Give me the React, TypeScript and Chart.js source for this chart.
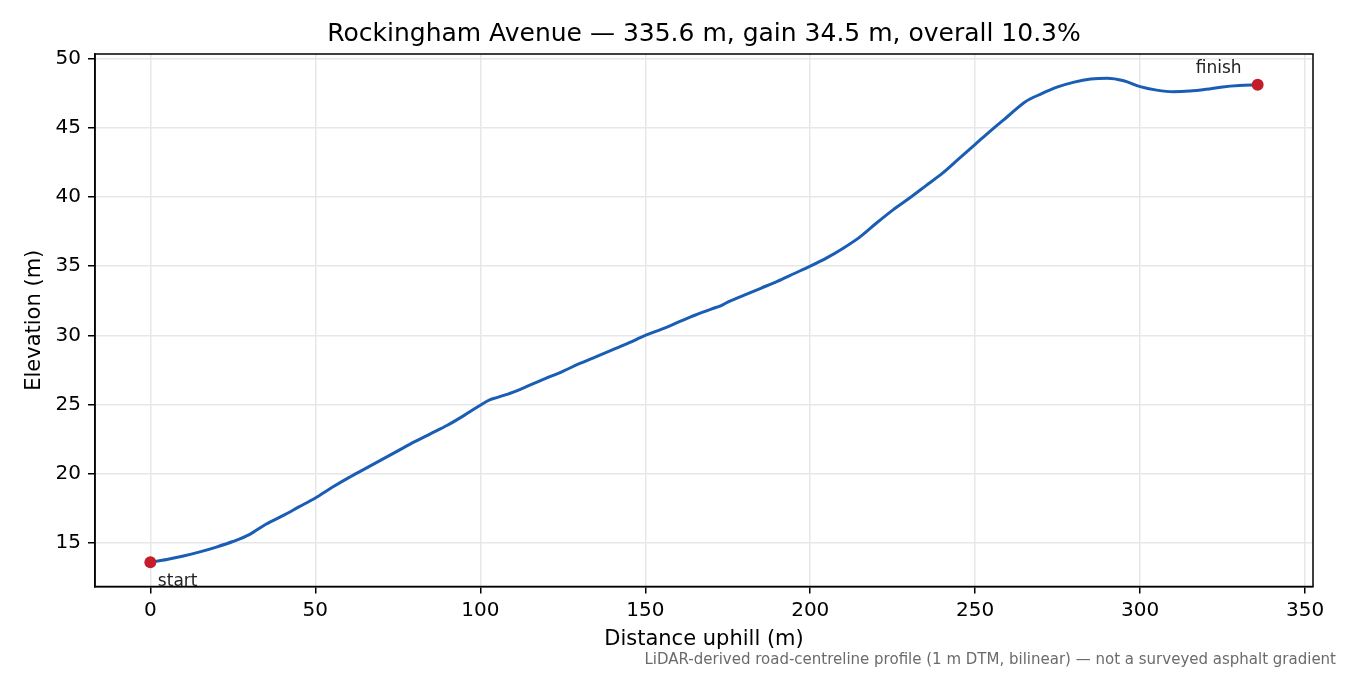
import React, { useEffect, useRef } from "react";
import { Chart, registerables } from "chart.js";

Chart.register(...registerables);

// Distance along the road (m) and elevation (m)
const distances = [
  0, 5, 10, 15, 20, 25, 30, 35, 40, 45, 50, 55, 60, 65, 70, 75, 80, 85, 90, 95,
  100, 103, 105, 110, 115, 120, 125, 130, 135, 140, 145, 150, 155, 160, 165,
  170, 173, 175, 180, 185, 190, 195, 200, 205, 210, 215, 220, 225, 230, 235,
  240, 245, 250, 255, 260, 265, 270, 275, 280, 285, 290, 295, 300, 305, 310,
  315, 320, 325, 330, 335.6,
];
const elevations = [
  13.6, 13.8, 14.05, 14.35, 14.7, 15.1, 15.6, 16.35, 16.95, 17.6, 18.25, 19.0,
  19.7, 20.35, 21.0, 21.65, 22.3, 22.9, 23.5, 24.2, 24.95, 25.35, 25.5, 25.9,
  26.4, 26.9, 27.4, 27.95, 28.45, 28.95, 29.45, 30.0, 30.45, 30.95, 31.45,
  31.9, 32.15, 32.4, 32.9, 33.4, 33.9, 34.45, 35.0, 35.6, 36.3, 37.1, 38.1,
  39.05, 39.9, 40.8, 41.7, 42.75, 43.8, 44.85, 45.85, 46.85, 47.45, 47.95,
  48.3, 48.52, 48.58, 48.4, 47.97, 47.72, 47.6, 47.65, 47.78, 47.95, 48.05,
  48.1,
];

const xTicks = [0, 50, 100, 150, 200, 250, 300, 350];
const yTicks = [15, 20, 25, 30, 35, 40, 45, 50];
const endLabels = ["start", "finish"];

const titleText = "Rockingham Avenue — 335.6 m, gain 34.5 m, overall 10.3%";
const footnote =
  "LiDAR-derived road-centreline profile (1 m DTM, bilinear) — not a surveyed asphalt gradient";

const FONT = "'DejaVu Sans', sans-serif";

// frame, start/finish labels and footnote
const extrasPlugin = {
  id: "extras",
  afterDatasetsDraw(chart: any) {
    const { ctx, chartArea, scales } = chart;
    ctx.save();
    ctx.strokeStyle = "#000";
    ctx.lineWidth = 1.5;
    ctx.strokeRect(chartArea.left, chartArea.top, chartArea.width, chartArea.height);

    const last = distances.length - 1;
    const sx = scales.x.getPixelForValue(distances[0]);
    const sy = scales.y.getPixelForValue(elevations[0]);
    const fx = scales.x.getPixelForValue(distances[last]);
    const fy = scales.y.getPixelForValue(elevations[last]);

    ctx.font = `17px ${FONT}`;
    ctx.fillStyle = "#222";
    ctx.textBaseline = "alphabetic";
    ctx.textAlign = "left";
    ctx.fillText(endLabels[0], sx + 7.5, sy + 24);
    ctx.textAlign = "center";
    ctx.fillText(endLabels[1], fx - 39, fy - 12);

    ctx.font = `15px ${FONT}`;
    ctx.fillStyle = "#6b6b6b";
    ctx.textAlign = "right";
    ctx.textBaseline = "middle";
    ctx.fillText(footnote, chart.width - 14, chart.height - 15);
    ctx.restore();
  },
};

export default function App() {
  const canvasRef = useRef<HTMLCanvasElement | null>(null);

  useEffect(() => {
    document.body.style.margin = "0";
    const ctx = canvasRef.current?.getContext("2d");
    if (!ctx) return;

    const profile = distances.map((d, i) => ({ x: d, y: elevations[i] }));
    const ends = [profile[0], profile[profile.length - 1]];

    const chart = new Chart(ctx, {
      type: "line",
      data: {
        datasets: [
          {
            data: ends,
            showLine: false,
            pointRadius: 6,
            pointHoverRadius: 6,
            pointBackgroundColor: "#c41e2c",
            pointBorderColor: "#c41e2c",
            pointBorderWidth: 0,
            clip: false,
            order: 0,
          },
          {
            data: profile,
            borderColor: "#1a5db4",
            borderWidth: 3,
            pointRadius: 0,
            cubicInterpolationMode: "monotone",
            fill: false,
            order: 1,
          },
        ],
      },
      options: {
        responsive: true,
        maintainAspectRatio: false,
        animation: false,
        layout: { padding: { left: 0, right: 37, top: 0, bottom: 0 } },
        plugins: {
          legend: { display: false },
          tooltip: { enabled: false },
          title: {
            display: true,
            text: titleText,
            fullSize: false,
            color: "#000",
            font: { family: FONT, size: 25, weight: "normal" },
            padding: { top: 19, bottom: 5 },
          },
        },
        scales: {
          x: {
            type: "linear",
            min: -16.78,
            max: 352.38,
            afterBuildTicks: (scale: any) => {
              scale.ticks = xTicks.map((v) => ({ value: v }));
            },
            afterFit: (scale: any) => {
              scale.height = 88.5;
            },
            ticks: {
              color: "#000",
              font: { family: FONT, size: 20 },
              padding: 5,
              maxRotation: 0,
              autoSkip: false,
            },
            grid: {
              color: "#e7e7e7",
              lineWidth: 1.5,
              tickColor: "#000",
              tickWidth: 1.5,
              tickLength: 7,
            },
            border: { color: "#000", width: 1.5 },
            title: {
              display: true,
              text: "Distance uphill (m)",
              color: "#000",
              font: { family: FONT, size: 21 },
              padding: { top: 0, bottom: 22.5 },
            },
          },
          y: {
            type: "linear",
            min: 11.85,
            max: 50.33,
            afterBuildTicks: (scale: any) => {
              scale.ticks = yTicks.map((v) => ({ value: v }));
            },
            afterFit: (scale: any) => {
              scale.width = 95;
            },
            ticks: {
              color: "#000",
              font: { family: FONT, size: 20 },
              padding: 7,
              autoSkip: false,
            },
            grid: {
              color: "#e7e7e7",
              lineWidth: 1.5,
              tickColor: "#000",
              tickWidth: 1.5,
              tickLength: 7,
            },
            border: { color: "#000", width: 1.5 },
            title: {
              display: true,
              text: "Elevation (m)",
              color: "#000",
              font: { family: FONT, size: 21 },
              padding: { top: 21.5, bottom: 0 },
            },
          },
        },
      },
      plugins: [extrasPlugin],
    });

    return () => {
      chart.destroy();
    };
  }, []);

  return (
    <div style={{ width: "1350px", height: "675px", position: "relative" }}>
      <canvas ref={canvasRef} />
    </div>
  );
}
